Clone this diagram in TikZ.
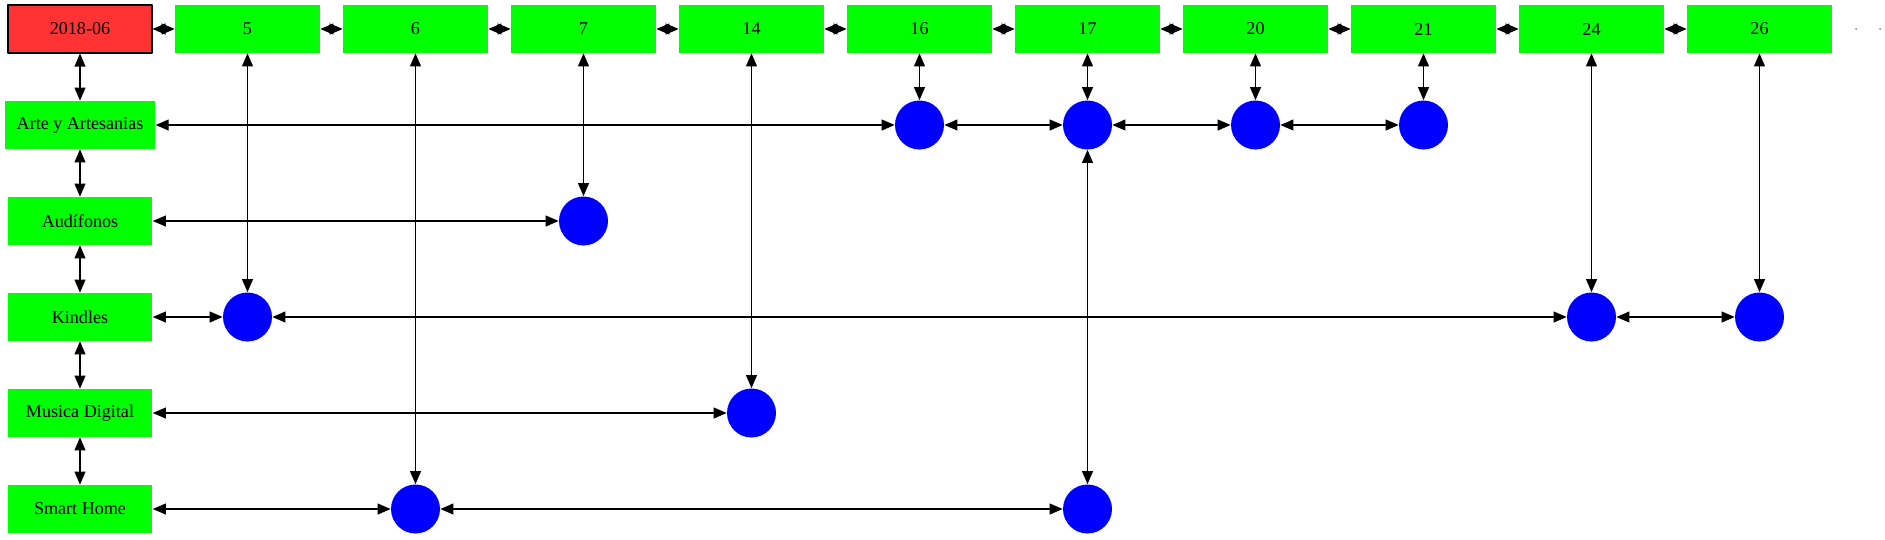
\documentclass[tikz,border=0pt]{standalone}
\usepackage{fontspec}
\setmainfont{Liberation Serif}
\usetikzlibrary{arrows.meta}
\begin{document}
\begin{tikzpicture}[x=0.02cm, y=-0.02cm, line join=round, >={Triangle[length=7.4pt,width=6.2pt]}, font=\fontsize{10.3}{12}\selectfont]
	\definecolor{boxgreen}{rgb}{0, 1, 0}
	\definecolor{datered}{rgb}{1, 0.2, 0.2}
	\tikzset{
		box/.style={fill=boxgreen, inner xsep=0.24cm, inner ysep=0pt, minimum width=2.9cm, minimum height=0.96cm},
		datebox/.style={box, fill=datered, draw=black, line width=0.6pt, minimum width=2.88cm},
		dot/.style={circle, fill=blue, inner sep=0pt, minimum size=0.98cm},
		link/.style={<->, line width=0.7pt}
	}
	\useasboundingbox (0,0) rectangle (1885,539);
	% header row
	\node[datebox, alias=r0] (t0) at (80,29) {2018-06};
	\foreach \c [count=\i, remember=\c as \p (initially 0)] in {5,6,7,14,16,17,20,21,24,26}{
		\node[box] (t\c) at (79.5+168*\i,29) {\c};
		\draw[link] (t\p) -- (t\c);
	}
	\fill[gray] (1856,29) circle (1) (1880,29) circle (1);
	% categories
	\foreach \txt [count=\j, remember=\j as \k (initially 0)] in {Arte y Artesanias, Audífonos, Kindles, Musica Digital, Smart Home}{
		\node[box] (r\j) at (80,29+96*\j) {\txt};
		\draw[link] (r\k) -- (r\j);
	}
	% points
	\foreach \r/\c in {1/16,1/17,1/20,1/21,2/7,3/5,3/24,3/26,4/14,5/6,5/17}
		\node[dot] (p\r-\c) at (t\c |- r\r) {};
	\foreach \a/\b in {r1/p1-16, p1-16/p1-17, p1-17/p1-20, p1-20/p1-21, r2/p2-7, r3/p3-5, p3-5/p3-24, p3-24/p3-26, r4/p4-14, r5/p5-6, p5-6/p5-17,
		t5/p3-5, t6/p5-6, t7/p2-7, t14/p4-14, t16/p1-16, t17/p1-17, p1-17/p5-17, t20/p1-20, t21/p1-21, t24/p3-24, t26/p3-26}
		\draw[link] (\a) -- (\b);
\end{tikzpicture}
\end{document}
